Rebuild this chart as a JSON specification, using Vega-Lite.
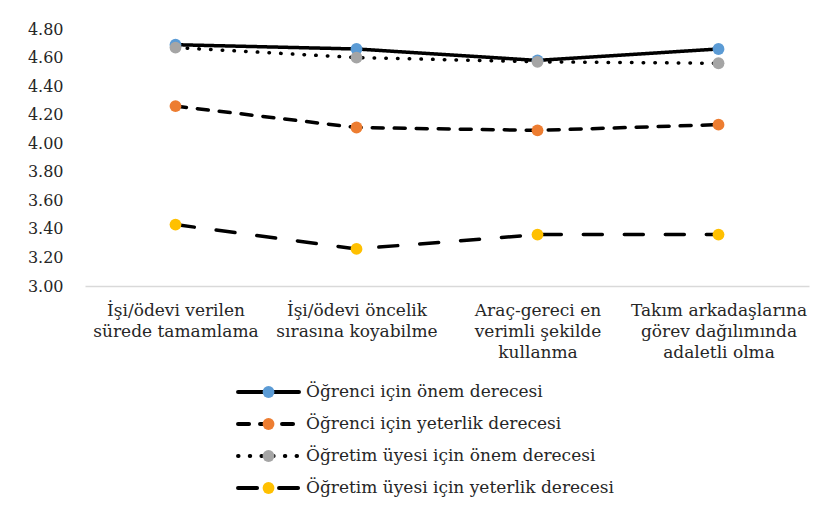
{
  "$schema": "https://vega.github.io/schema/vega-lite/v6.json",
  "padding": {"left": 27, "top": 21, "right": 10, "bottom": 5},
  "background": "white",
  "config": {"view": {"stroke": null}, "font": "DejaVu Serif"},
  "spacing": 16,
  "datasets": {
    "scores": [
      {"series": "Öğrenci için önem derecesi", "category": "İşi/ödevi verilen\nsürede tamamlama", "value": 4.69},
      {"series": "Öğrenci için önem derecesi", "category": "İşi/ödevi öncelik\nsırasına koyabilme", "value": 4.66},
      {"series": "Öğrenci için önem derecesi", "category": "Araç-gereci en\nverimli şekilde\nkullanma", "value": 4.58},
      {"series": "Öğrenci için önem derecesi", "category": "Takım arkadaşlarına\ngörev dağılımında\nadaletli olma", "value": 4.66},
      {"series": "Öğrenci için yeterlik derecesi", "category": "İşi/ödevi verilen\nsürede tamamlama", "value": 4.26},
      {"series": "Öğrenci için yeterlik derecesi", "category": "İşi/ödevi öncelik\nsırasına koyabilme", "value": 4.11},
      {"series": "Öğrenci için yeterlik derecesi", "category": "Araç-gereci en\nverimli şekilde\nkullanma", "value": 4.09},
      {"series": "Öğrenci için yeterlik derecesi", "category": "Takım arkadaşlarına\ngörev dağılımında\nadaletli olma", "value": 4.13},
      {"series": "Öğretim üyesi için önem derecesi", "category": "İşi/ödevi verilen\nsürede tamamlama", "value": 4.67},
      {"series": "Öğretim üyesi için önem derecesi", "category": "İşi/ödevi öncelik\nsırasına koyabilme", "value": 4.60},
      {"series": "Öğretim üyesi için önem derecesi", "category": "Araç-gereci en\nverimli şekilde\nkullanma", "value": 4.57},
      {"series": "Öğretim üyesi için önem derecesi", "category": "Takım arkadaşlarına\ngörev dağılımında\nadaletli olma", "value": 4.56},
      {"series": "Öğretim üyesi için yeterlik derecesi", "category": "İşi/ödevi verilen\nsürede tamamlama", "value": 3.43},
      {"series": "Öğretim üyesi için yeterlik derecesi", "category": "İşi/ödevi öncelik\nsırasına koyabilme", "value": 3.26},
      {"series": "Öğretim üyesi için yeterlik derecesi", "category": "Araç-gereci en\nverimli şekilde\nkullanma", "value": 3.36},
      {"series": "Öğretim üyesi için yeterlik derecesi", "category": "Takım arkadaşlarına\ngörev dağılımında\nadaletli olma", "value": 3.36}
    ],
    "seriesList": [
      {"series": "Öğrenci için önem derecesi"},
      {"series": "Öğrenci için yeterlik derecesi"},
      {"series": "Öğretim üyesi için önem derecesi"},
      {"series": "Öğretim üyesi için yeterlik derecesi"}
    ]
  },
  "vconcat": [
    {
      "width": 724,
      "height": 257,
      "data": {"name": "scores"},
      "encoding": {
        "x": {
          "field": "category",
          "type": "nominal",
          "sort": null,
          "scale": {"type": "point", "padding": 0.5},
          "axis": {
            "title": null,
            "labelAngle": 0,
            "labelFont": "DejaVu Serif",
            "labelFontSize": 17,
            "labelLineHeight": 21,
            "labelPadding": 16,
            "labelBaseline": "top",
            "labelLimit": 0,
            "labelOverlap": false,
            "labelColor": "#262626",
            "labelExpr": "split(datum.label, '\\n')",
            "ticks": false,
            "tickSize": 0,
            "grid": false,
            "domainColor": "#d9d9d9",
            "domainWidth": 1.5
          }
        },
        "y": {
          "field": "value",
          "type": "quantitative",
          "scale": {"domain": [3, 4.8], "nice": false, "zero": false},
          "axis": {
            "title": null,
            "values": [3, 3.2, 3.4, 3.6, 3.8, 4, 4.2, 4.4, 4.6, 4.8],
            "format": ".2f",
            "labelFont": "DejaVu Serif",
            "labelFontSize": 16,
            "labelPadding": 22,
            "labelColor": "#262626",
            "ticks": false,
            "tickSize": 0,
            "domain": false,
            "grid": false
          }
        }
      },
      "layer": [
        {
          "mark": {"type": "line", "color": "#000000", "strokeWidth": 3.5, "strokeCap": "round"},
          "encoding": {
            "strokeDash": {
              "field": "series",
              "type": "nominal",
              "scale": {
                "domain": ["Öğrenci için önem derecesi", "Öğrenci için yeterlik derecesi", "Öğretim üyesi için önem derecesi", "Öğretim üyesi için yeterlik derecesi"],
                "range": [[1, 0], [11, 11], [0.5, 11.2], [19, 22]]
              },
              "legend": null
            }
          }
        },
        {
          "mark": {"type": "point", "filled": true, "size": 140, "opacity": 1},
          "encoding": {
            "color": {
              "field": "series",
              "type": "nominal",
              "scale": {
                "domain": ["Öğrenci için önem derecesi", "Öğrenci için yeterlik derecesi", "Öğretim üyesi için önem derecesi", "Öğretim üyesi için yeterlik derecesi"],
                "range": ["#5B9BD5", "#ED7D31", "#A5A5A5", "#FFC000"]
              },
              "legend": null
            }
          }
        }
      ]
    },
    {
      "width": 214,
      "height": 128,
      "data": {"name": "seriesList"},
      "encoding": {
        "y": {"field": "series", "type": "nominal", "sort": null, "axis": null}
      },
      "layer": [
        {
          "mark": {"type": "rule", "color": "#000000", "strokeWidth": 4, "strokeCap": "round"},
          "encoding": {
            "x": {"datum": 0, "type": "quantitative", "scale": {"domain": [-2.51, 1], "nice": false, "zero": false}, "axis": null},
            "x2": {"datum": 1},
            "strokeDash": {"field": "series", "type": "nominal", "legend": null}
          }
        },
        {
          "mark": {"type": "point", "filled": true, "size": 140, "opacity": 1},
          "encoding": {
            "x": {"datum": 0.5, "type": "quantitative"},
            "color": {"field": "series", "type": "nominal", "legend": null}
          }
        },
        {
          "mark": {"type": "text", "align": "left", "baseline": "middle", "dx": 7, "fontSize": 17, "font": "DejaVu Serif", "color": "#262626"},
          "encoding": {
            "x": {"datum": 1, "type": "quantitative"},
            "text": {"field": "series"}
          }
        }
      ]
    }
  ]
}
